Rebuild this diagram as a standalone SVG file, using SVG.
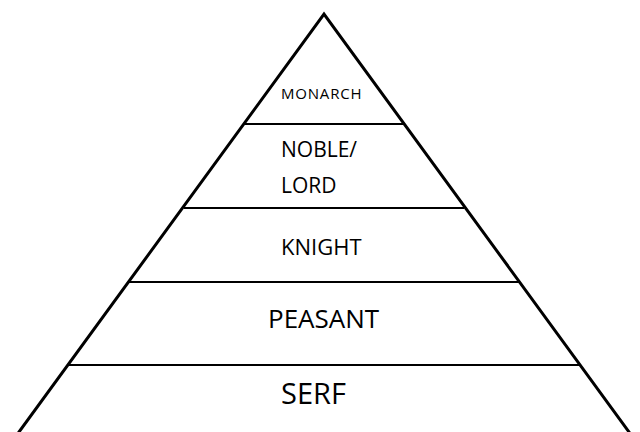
<svg xmlns="http://www.w3.org/2000/svg" width="640" height="432" viewBox="0 0 640 432">
<style>
.side{stroke:#000;stroke-width:3;fill:none;stroke-linecap:square}
.tier{stroke:#000;stroke-width:2;fill:none}
.lbl{font-family:"Open Sans","Noto Sans","Liberation Sans",sans-serif;fill:#000}
</style>
<rect width="640" height="432" fill="#fff"/>
<g id="pyramid">
<path class="side" d="M19,432 L324,14 L629,432"/>
</g>
<g id="connectors">
<line class="tier" x1="245" y1="124" x2="403" y2="124"/>
<line class="tier" x1="184" y1="208" x2="464" y2="208"/>
<line class="tier" x1="129" y1="282" x2="519" y2="282"/>
<line class="tier" x1="68" y1="365" x2="580" y2="365"/>
</g>
<g id="monarch"><text class="lbl" x="281" y="99" font-size="15" letter-spacing="0.8">MONARCH</text></g>
<g id="noble"><text class="lbl" x="281" y="157" font-size="21">NOBLE/</text><text class="lbl" x="281" y="193" font-size="21">LORD</text></g>
<g id="knight"><text class="lbl" x="281" y="255" font-size="22">KNIGHT</text></g>
<g id="peasant"><text class="lbl" x="268" y="328" font-size="26">PEASANT</text></g>
<g id="serf"><text class="lbl" x="281" y="404" font-size="29">SERF</text></g>
</svg>
